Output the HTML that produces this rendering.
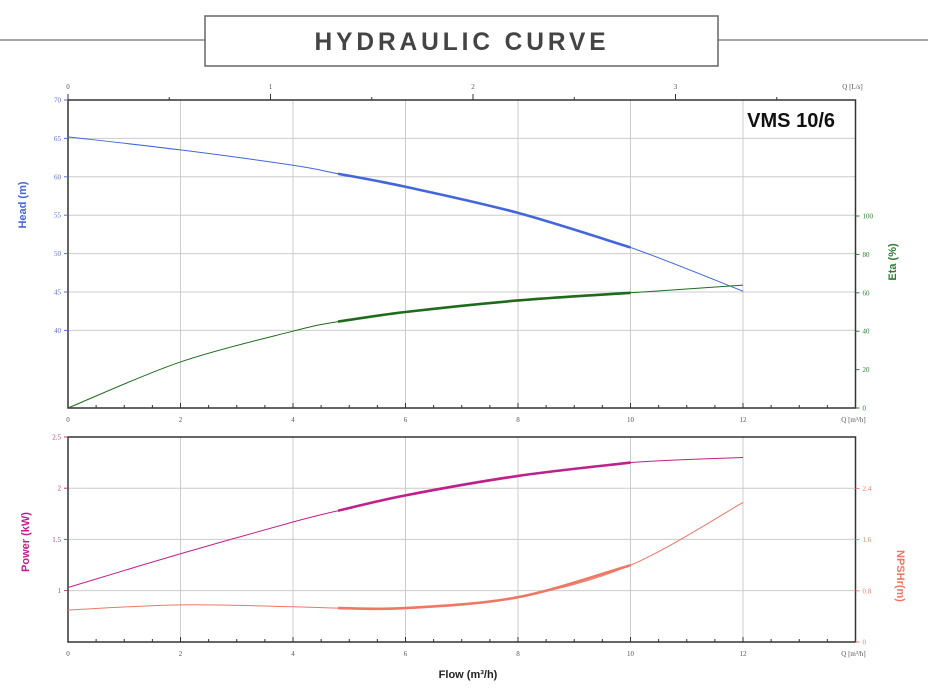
<!DOCTYPE html>
<html><head><meta charset="utf-8"><style>
body{margin:0;background:#fff;width:928px;height:700px;overflow:hidden;font-family:"Liberation Serif",serif}
svg{display:block}
</style></head><body>
<svg id="c" width="928" height="700">
<line x1="0" y1="40" x2="205" y2="40" stroke="#888" stroke-width="1.5"/>
<line x1="718" y1="40" x2="928" y2="40" stroke="#888" stroke-width="1.5"/>
<rect x="205" y="16" width="513" height="50" fill="#fff" stroke="#666" stroke-width="1.5"/>
<text x="462" y="50" text-anchor="middle" font-family="Liberation Sans, sans-serif" font-weight="bold" font-size="25" letter-spacing="4" fill="#444" textLength="295" lengthAdjust="spacingAndGlyphs">HYDRAULIC CURVE</text>
<text x="835" y="127" text-anchor="end" font-family="Liberation Sans, sans-serif" font-weight="bold" font-size="20" fill="#111">VMS 10/6</text>
<g id="g"></g>
</svg>
<script>
const flow=[0,2,4,4.8,6,8,10,12];
const head=[65.2,63.5,61.5,60.4,58.7,55.3,50.8,45.1];
const eta=[0,24,40,45,50,56,60,64];
const power=[1.03,1.36,1.67,1.78,1.93,2.12,2.25,2.30];
const npsh=[0.5,0.58,0.55,0.53,0.53,0.7,1.2,2.18];
const headTicks=[40,45,50,55,60,65,70];
const etaTicks=[0,20,40,60,80,100];
const powerTicks=[1,1.5,2,2.5];
const npshTicks=[0,0.8,1.6,2.4];
const flowTicks=[0,2,4,6,8,10,12];
const lsTicks=[0,1,2,3];
const bestFrom=4.8,bestTo=10;

const NS='http://www.w3.org/2000/svg',G=document.getElementById('g');
function el(t,a,txt){const e=document.createElementNS(NS,t);for(const k in a)e.setAttribute(k,a[k]);if(txt!==undefined)e.textContent=txt;G.appendChild(e);return e;}
const L=68,R=855.5;
const X=q=>L+q*(R-L)/14;
const yHead=v=>100+(70-v)*7.68;
const yEta=v=>408-v*1.92;
const yPow=v=>437+(2.5-v)*102.4;
const yNp=v=>642-v*64;

function spline(xs,ys){let d='M'+xs[0]+','+ys[0];for(let i=0;i<xs.length-1;i++){const x0=xs[Math.max(0,i-1)],y0=ys[Math.max(0,i-1)],x3=xs[Math.min(xs.length-1,i+2)],y3=ys[Math.min(xs.length-1,i+2)];const c1x=xs[i]+(xs[i+1]-x0)/6,c1y=ys[i]+(ys[i+1]-y0)/6,c2x=xs[i+1]-(x3-xs[i])/6,c2y=ys[i+1]-(y3-ys[i])/6;d+=` C${c1x},${c1y} ${c2x},${c2y} ${xs[i+1]},${ys[i+1]}`;}return d;}
function curve(vals,yf,color,name){
  const xs=flow.map(X),ys=vals.map(yf);
  let e=el('path',{d:spline(xs,ys),fill:'none',stroke:color,'stroke-width':1});
  
  
  const i0=flow.indexOf(bestFrom),i1=flow.indexOf(bestTo);
  e=el('path',{d:spline(xs.slice(i0,i1+1),ys.slice(i0,i1+1)),fill:'none',stroke:color,'stroke-width':2.6});
  
  
}
function panel(top,bot,hticks,yf,name){
  for(const v of hticks){const y=yf(v);if(y>top+1&&y<bot-1){const e=el('line',{x1:L,x2:R,y1:y,y2:y,stroke:'#ccc','stroke-width':1});}}
  for(const q of flowTicks){if(q>0){const e=el('line',{x1:X(q),x2:X(q),y1:top,y2:bot,stroke:'#ccc','stroke-width':1});}}
  const r=el('rect',{x:L,y:top,width:R-L,height:bot-top,fill:'none',stroke:'#333','stroke-width':1.5});
  
  for(let q=0;q<=14;q+=0.5){const e=el('line',{x1:X(q),x2:X(q),y1:bot,y2:bot-(q%2==0?5:3),stroke:'#333'});}
  for(const q of flowTicks){const t=el('text',{x:X(q),y:bot+14,'text-anchor':'middle','font-size':7,fill:'#555'},q);}
  const t=el('text',{x:R-2,y:bot+14,'text-anchor':'middle','font-size':7,fill:'#555'},'Q [m³/h]');
}
function yaxis(ticks,yf,x,anchor,color,name){
  for(const v of ticks){const y=yf(v);let e=el('line',{x1:x,x2:x+(anchor=='end'?-4:4),y1:y,y2:y,stroke:color});
    e=el('text',{x:x+(anchor=='end'?-7:7),y:y+2.5,'text-anchor':anchor,'font-size':7,fill:color},v);}
}
panel(100,408,headTicks,yHead,'head-panel');
for(let q=0;q<=3.5;q+=0.5){const x=L+q*3.6*(R-L)/14;if(x<=R){const e=el('line',{x1:x,x2:x,y1:100,y2:q%1==0?94:97,stroke:'#333'});}}
for(const q of lsTicks){const t=el('text',{x:L+q*3.6*(R-L)/14,y:89,'text-anchor':'middle','font-size':7,fill:'#555'},q);}
{const t=el('text',{x:R-3,y:89,'text-anchor':'middle','font-size':7,fill:'#555'},'Q [L/s]');}
yaxis(headTicks,yHead,L,'end','#5a6fc8','head-axis');
yaxis(etaTicks,yEta,R,'start','#2e7d32','eta-axis');
curve(head,yHead,'#4466dd','head');
curve(eta,yEta,'#1e6b1e','eta');
panel(437,642,[0.5,1,1.5,2,2.5],yPow,'power-panel');
yaxis(powerTicks,yPow,L,'end','#b04080','power-axis');
yaxis(npshTicks,yNp,R,'start','#e88070','npsh-axis');
curve(power,yPow,'#c0208a','power');
curve(npsh,yNp,'#ee7766','npsh');
function lab(x,y,rot,txt,color,name){const t=el('text',{x:x,y:y,transform:`rotate(${rot} ${x} ${y})`,'text-anchor':'middle','font-family':'Liberation Sans, sans-serif','font-weight':'bold','font-size':11,fill:color},txt);}
lab(26,205,-90,'Head (m)','#4466dd','head-axis-title');
lab(896,262,-90,'Eta (%)','#2e7d32','eta-axis-title');
lab(29,542,-90,'Power (kW)','#c0208a','power-axis-title');
lab(897,576,90,'NPSHr(m)','#ee7766','npsh-axis-title');
lab(468,678,0,'Flow (m³/h)','#222','x-axis-title');
</script>
</body></html>
